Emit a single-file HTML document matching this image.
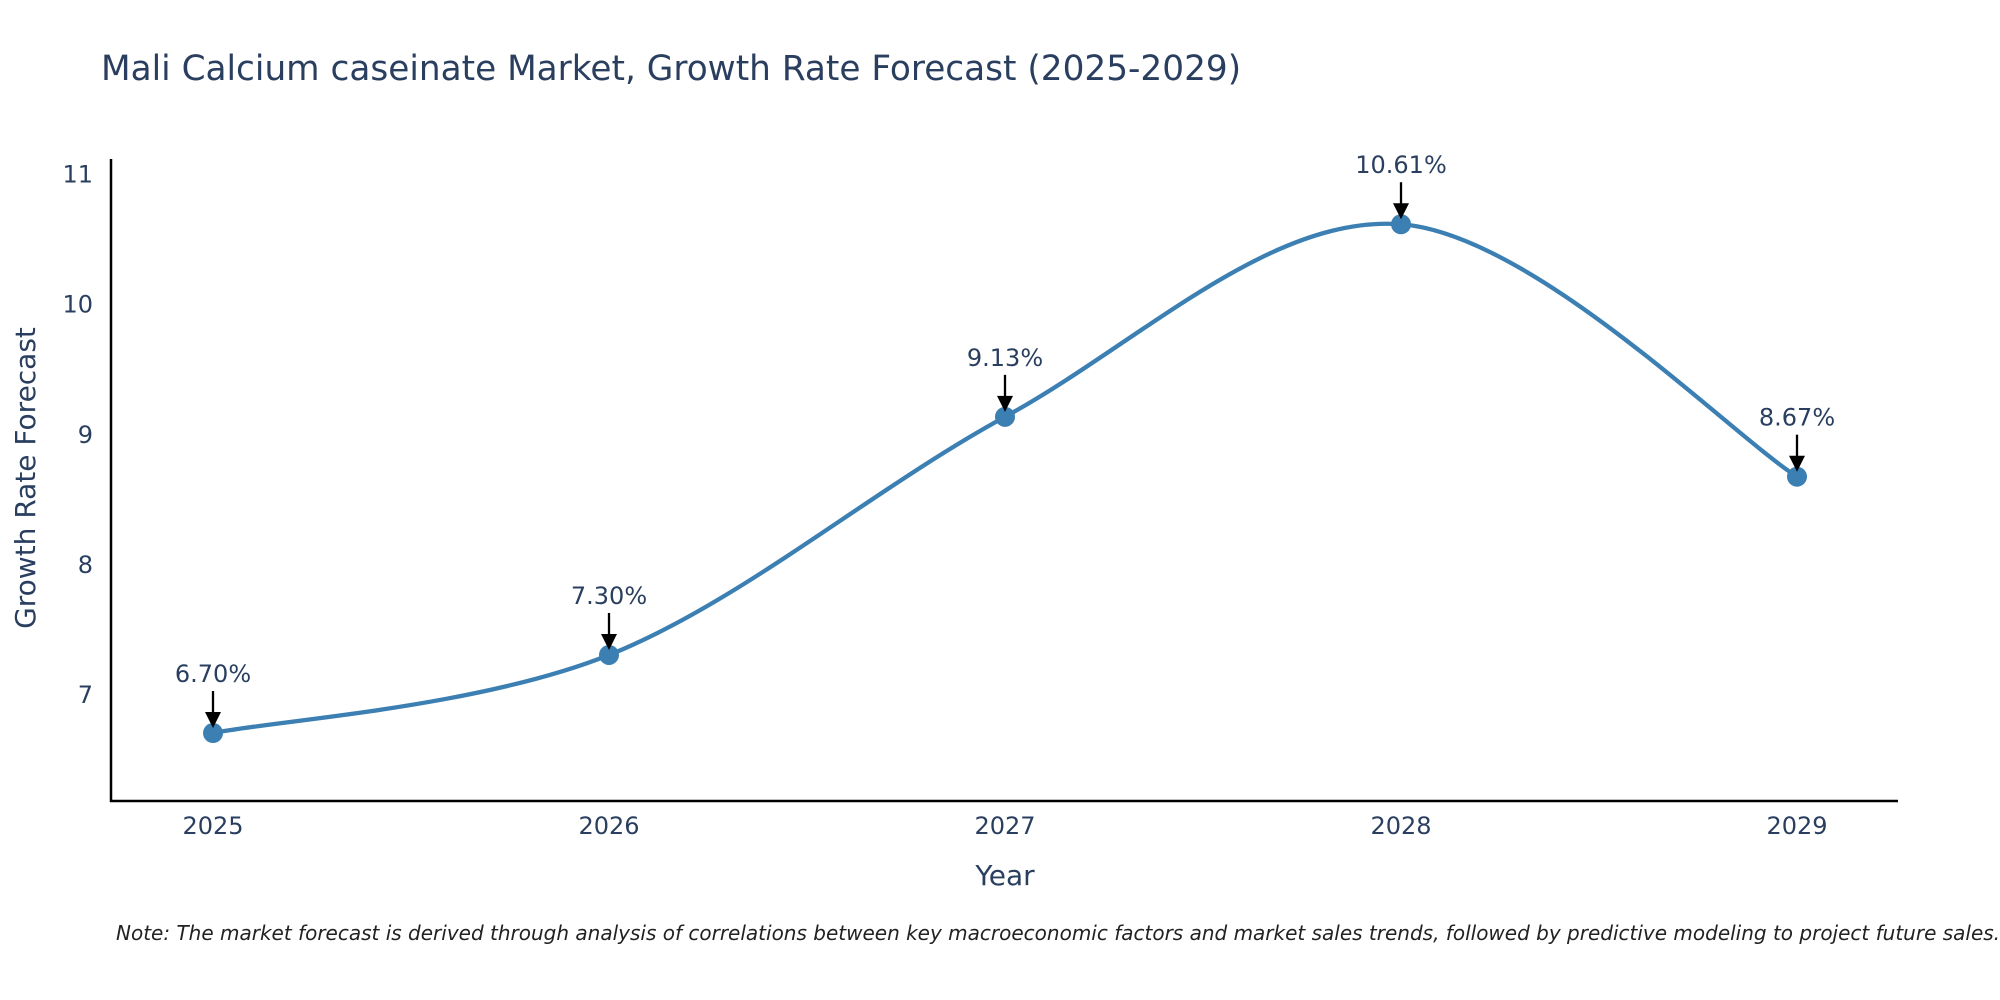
<!DOCTYPE html>
<html><head><meta charset="utf-8"><style>
html,body{margin:0;padding:0;background:#fff;}
svg{display:block;font-family:"DejaVu Sans","Liberation Sans",sans-serif;}
</style></head><body>
<svg id="chart" width="2000" height="1000" viewBox="0 0 2000 1000">
<text x="101" y="80" font-size="34.3" fill="#2a3f5f">Mali Calcium caseinate Market, Growth Rate Forecast (2025-2029)</text>
<g id="yticks"></g>
<g id="xticks"></g>
<line x1="111" y1="159" x2="111" y2="802" stroke="#000" stroke-width="2.5"/>
<line x1="110" y1="801" x2="1898" y2="801" stroke="#000" stroke-width="2.5"/>
<text x="1005" y="885" font-size="28" fill="#2a3f5f" text-anchor="middle">Year</text>
<text transform="translate(35,478) rotate(-90)" font-size="28" fill="#2a3f5f" text-anchor="middle">Growth Rate Forecast</text>
<g id="series"></g>
<text x="116" y="940" font-size="20" font-style="italic" fill="#222">Note: The market forecast is derived through analysis of correlations between key macroeconomic factors and market sales trends, followed by predictive modeling to project future sales.</text>
</svg>
<script>
const years = [2025, 2026, 2027, 2028, 2029];
const growthRates = [6.70, 7.30, 9.13, 10.61, 8.67];
const valueLabels = ["6.70%", "7.30%", "9.13%", "10.61%", "8.67%"];
const yTicks = [7, 8, 9, 10, 11];

const NS = "http://www.w3.org/2000/svg";
function xScale(v){ return 213 + (v - 2025) * (1797 - 213) / 4; }
function yScale(v){ return 694 - (v - 7) * (694 - 173.5) / 4; }
function mk(tag, attrs, parent){ const e = document.createElementNS(NS, tag); for (const k in attrs) e.setAttribute(k, attrs[k]); parent.appendChild(e); return e; }

const yt = document.getElementById('yticks');
yTicks.forEach(t => {
  const e = mk('text', {x: 93, y: yScale(t) + 9, 'font-size': 24, fill: '#2a3f5f', 'text-anchor': 'end'}, yt);
  
  
  e.textContent = t;
});
const xt = document.getElementById('xticks');
years.forEach(y => {
  const e = mk('text', {x: xScale(y), y: 834, 'font-size': 24, fill: '#2a3f5f', 'text-anchor': 'middle'}, xt);
  
  
  e.textContent = y;
});

const pts = years.map((y, i) => [xScale(y), yScale(growthRates[i])]);
let d = `M${pts[0][0]},${pts[0][1]}`;
for (let i = 0; i < pts.length - 1; i++) {
  const p0 = pts[Math.max(0, i - 1)], p1 = pts[i], p2 = pts[i + 1], p3 = pts[Math.min(pts.length - 1, i + 2)];
  const c1 = [p1[0] + (p2[0] - p0[0]) / 6, p1[1] + (p2[1] - p0[1]) / 6];
  const c2 = [p2[0] - (p3[0] - p1[0]) / 6, p2[1] - (p3[1] - p1[1]) / 6];
  d += ` C${c1[0]},${c1[1]} ${c2[0]},${c2[1]} ${p2[0]},${p2[1]}`;
}
const s = document.getElementById('series');
const line = mk('path', {d: d, fill: 'none', stroke: '#3b7fb3', 'stroke-width': 4.3}, s);


pts.forEach((p, i) => {
  const c = mk('circle', {cx: p[0], cy: p[1], r: 10, fill: '#3b7fb3'}, s);
  
  
  const a = mk('line', {x1: p[0], y1: p[1] - 42, x2: p[0], y2: p[1] - 18, stroke: '#000', 'stroke-width': 2.3}, s);
  
  
  const h = mk('polygon', {points: `${p[0]-8},${p[1]-21} ${p[0]+8},${p[1]-21} ${p[0]},${p[1]-5}`, fill: '#000'}, s);
  
  
  const t = mk('text', {x: p[0], y: p[1] - 51, 'font-size': 24, fill: '#2a3f5f', 'text-anchor': 'middle'}, s);
  
  
  t.textContent = valueLabels[i];
});
</script>
</body></html>
